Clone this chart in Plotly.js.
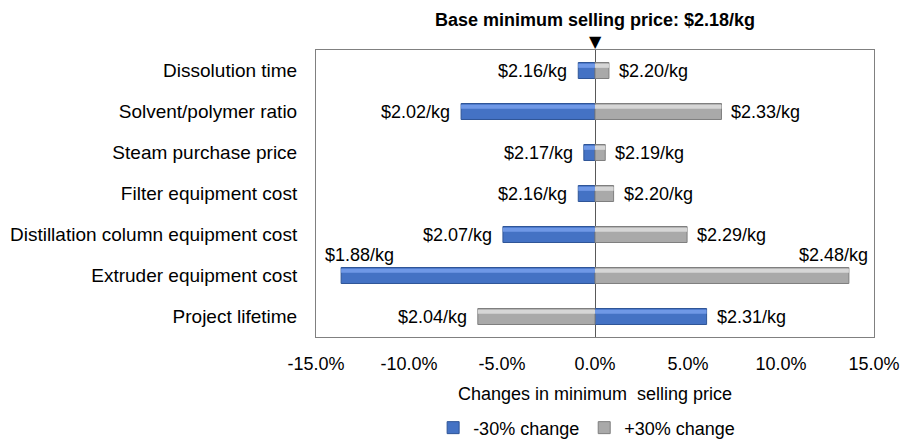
<!DOCTYPE html>
<html>
<head>
<meta charset="utf-8">
<script src="https://cdn.plot.ly/plotly-3.0.1.min.js"></script>
<style>html,body{margin:0;padding:0;background:#fff;}#chart{width:901px;height:443px;}</style>
</head>
<body>
<div id="chart"></div>
<script>
const categories = ["Dissolution time", "Solvent/polymer ratio", "Steam purchase price", "Filter equipment cost", "Distillation column equipment cost", "Extruder equipment cost", "Project lifetime"];
// percent change in minimum selling price
const minusChange = [-0.9, -7.2, -0.6, -0.9, -4.95, -13.65, 6.0];
const plusChange = [0.75, 6.8, 0.55, 1.0, 4.95, 13.65, -6.3];
const minusLabels = ["$2.16/kg", "$2.02/kg", "$2.17/kg", "$2.16/kg", "$2.07/kg", "$1.88/kg", "$2.31/kg"];
const plusLabels = ["$2.20/kg", "$2.33/kg", "$2.19/kg", "$2.20/kg", "$2.29/kg", "$2.48/kg", "$2.04/kg"];
const tickVals = [-15, -10, -5, 0, 5, 10, 15];
const tickText = ["-15.0%", "-10.0%", "-5.0%", "0.0%", "5.0%", "10.0%", "15.0%"];
const baseTitle = "Base minimum selling price: $2.18/kg";

const font = "Liberation Sans, Arial, sans-serif";
const blue = "#4472C4", blueEdge = "#2F5597", blueHi = "#6F98E6";
const gray = "#A9A9A9", grayEdge = "#7F7F7F", grayHi = "#D6D6D6";

const traces = [
  {type: "bar", orientation: "h", name: "-30% change", y: categories, x: minusChange,
   width: 0.39, marker: {color: blue, line: {color: blueEdge, width: 1}}, hoverinfo: "x+y"},
  {type: "bar", orientation: "h", name: "+30% change", y: categories, x: plusChange,
   width: 0.39, marker: {color: gray, line: {color: grayEdge, width: 1}}, hoverinfo: "x+y"},
  {type: "bar", orientation: "h", showlegend: false, y: categories, x: minusChange,
   width: 0.1, offset: -0.165, marker: {color: blueHi, line: {width: 0}}, hoverinfo: "skip"},
  {type: "bar", orientation: "h", showlegend: false, y: categories, x: plusChange,
   width: 0.1, offset: -0.165, marker: {color: grayHi, line: {width: 0}}, hoverinfo: "skip"}
];

const annotations = [];
for (let i = 0; i < categories.length; i++) {
  const pairs = [[minusChange[i], minusLabels[i]], [plusChange[i], plusLabels[i]]];
  pairs.forEach(([v, t]) => {
    const above = Math.abs(v) > 12;
    annotations.push({
      x: v, y: categories[i], xref: "x", yref: "y", text: t, showarrow: false,
      xanchor: above ? (v < 0 ? "left" : "right") : (v < 0 ? "right" : "left"),
      xshift: above ? (v < 0 ? -18 : 21) : (v < 0 ? -9 : 8),
      yshift: above ? 21 : 0,
      font: {family: font, size: 18, color: "#000"}
    });
  });
}
annotations.push({x: 0, xref: "x", y: 1, yref: "paper", yanchor: "bottom", yshift: -3, text: "▼", showarrow: false,
  font: {family: "DejaVu Sans", size: 16, color: "#000"}});

const layout = {
  width: 901, height: 443,
  margin: {l: 316, r: 27, t: 50, b: 106},
  paper_bgcolor: "#fff", plot_bgcolor: "#fff",
  barmode: "overlay",
  title: {text: "<b>" + baseTitle + "</b>", xref: "paper", x: 0.5, xanchor: "center", y: 0.956, yanchor: "middle",
    font: {family: font, size: 18, color: "#000"}},
  font: {family: font, size: 18, color: "#000"},
  xaxis: {range: [-15, 15], tickvals: tickVals, ticktext: tickText, showgrid: false,
    zeroline: true, zerolinecolor: "#595959", zerolinewidth: 1,
    showline: true, mirror: true, linecolor: "#808080", linewidth: 1, ticks: "",
    ticklabelstandoff: 10, ticklabeloverflow: "allow", automargin: false,
    title: {text: "Changes in minimum  selling price", font: {family: font, size: 18}, standoff: 14},
    tickfont: {family: font, size: 18}, fixedrange: true},
  yaxis: {type: "category", autorange: "reversed", showgrid: false, showline: true, mirror: true, automargin: false,
    linecolor: "#808080", linewidth: 1, ticks: "", ticklabelstandoff: 14, tickfont: {family: font, size: 19}, fixedrange: true},
  legend: {orientation: "h", x: 0.485, xanchor: "center", xref: "paper", yref: "container", y: 0.034, yanchor: "middle",
    font: {family: font, size: 18}, traceorder: "normal", itemwidth: 30, tracegroupgap: 0},
  annotations: annotations
};

Plotly.newPlot("chart", traces, layout, {displayModeBar: false, staticPlot: true});
</script>
</body>
</html>
